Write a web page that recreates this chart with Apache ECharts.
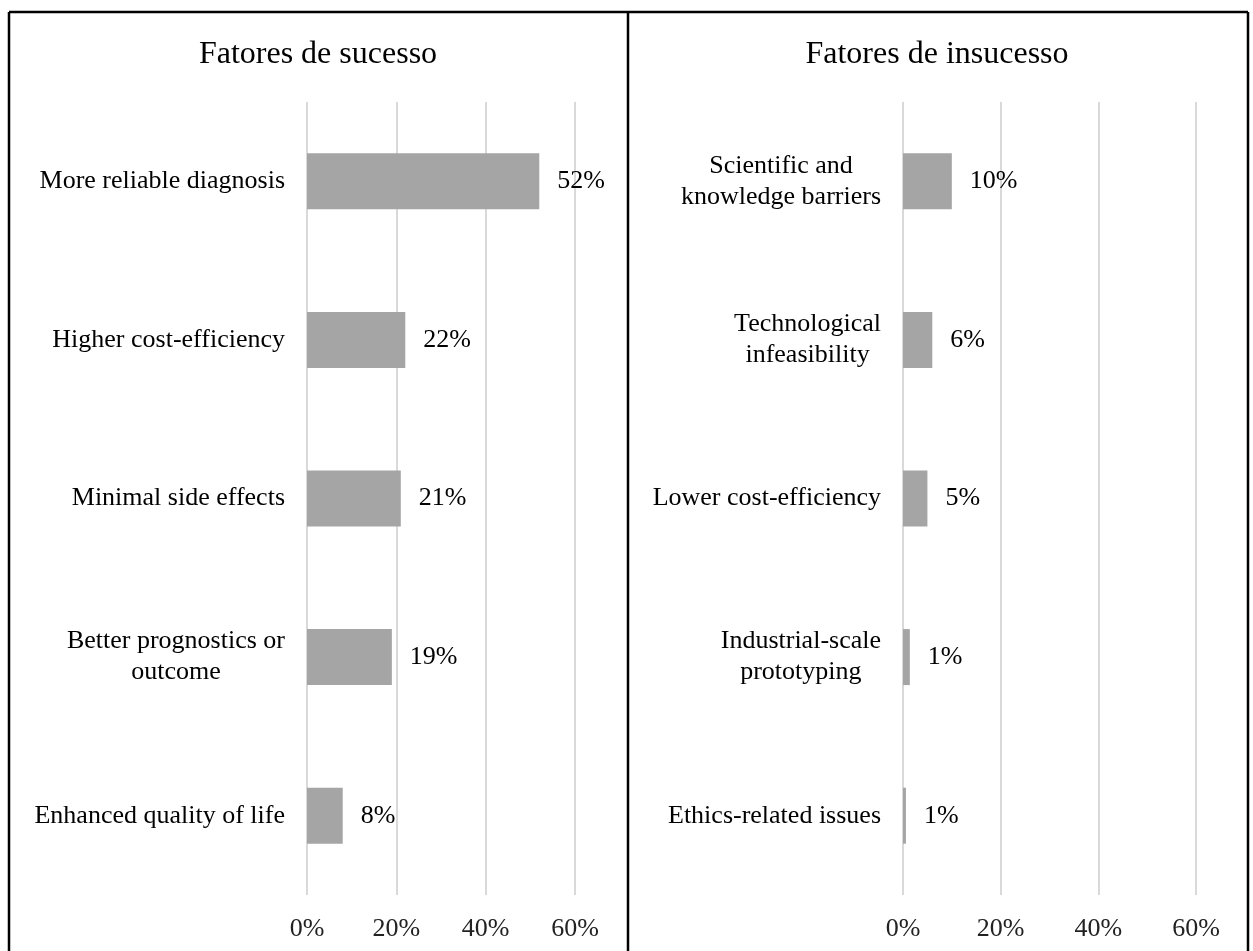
<!DOCTYPE html>
<html>
<head>
<meta charset="utf-8">
<script src="https://cdn.jsdelivr.net/npm/echarts@6/dist/echarts.min.js"></script>
<style>
  html, body { margin: 0; padding: 0; background: #fff; }
  #chart { width: 1253px; height: 951px; }
</style>
</head>
<body>
<div id="chart"></div>
<script>
// success factors (left panel)
const successLabels = [
  'More reliable diagnosis',
  'Higher cost-efficiency',
  'Minimal side effects',
  'Better prognostics or\noutcome',
  'Enhanced quality of life'
];
const successValues = [52, 22, 21, 19, 8];

// failure factors (right panel)
const failureLabels = [
  'Scientific and\nknowledge barriers',
  'Technological\ninfeasibility',
  'Lower cost-efficiency',
  'Industrial-scale\nprototyping',
  'Ethics-related issues'
];
const failureValues = [10, 6, 5, 1.4, 0.6];

const panelTitles = ['Fatores de sucesso', 'Fatores de insucesso'];
const axisTicks = [0, 20, 40, 60];

const FONT = '"Liberation Serif", "Times New Roman", serif';

function centeredLines(text) {
  return text.split('\n').map(line => `{c|${line}}`).join('\n');
}

function xAxisFor(gridIndex) {
  return {
    type: 'value',
    gridIndex,
    min: axisTicks[0],
    max: axisTicks[axisTicks.length - 1],
    interval: axisTicks[1] - axisTicks[0],
    axisLine: { show: false },
    axisTick: { show: false },
    splitLine: { show: true, lineStyle: { color: '#d9d9d9', width: 2 } },
    axisLabel: {
      formatter: '{value}%',
      margin: 21,
      fontFamily: FONT,
      fontSize: 26,
      color: '#222'
    }
  };
}

function yAxisFor(gridIndex, labels) {
  return {
    type: 'category',
    gridIndex,
    inverse: true,
    data: labels,
    axisLine: { show: false },
    axisTick: { show: false },
    axisLabel: {
      margin: 22,
      formatter: centeredLines,
      rich: {
        c: { fontFamily: FONT, fontSize: 26, color: '#000', align: 'center', lineHeight: 31 }
      }
    }
  };
}

function barSeries(index, values) {
  return {
    type: 'bar',
    xAxisIndex: index,
    yAxisIndex: index,
    data: values,
    barWidth: 56,
    itemStyle: { color: '#a5a5a5' },
    label: {
      show: true,
      position: 'right',
      distance: 18,
      formatter: p => Math.round(p.value) + '%',
      fontFamily: FONT,
      fontSize: 26,
      color: '#000'
    }
  };
}

const chart = echarts.init(document.getElementById('chart'));
chart.setOption({
  animation: false,
  backgroundColor: '#fff',
  title: [
    { text: panelTitles[0], left: 313, top: 34, textAlign: 'center',
      textStyle: { fontFamily: FONT, fontSize: 32, fontWeight: 'normal', color: '#000' } },
    { text: panelTitles[1], left: 932, top: 34, textAlign: 'center',
      textStyle: { fontFamily: FONT, fontSize: 32, fontWeight: 'normal', color: '#000' } }
  ],
  grid: [
    { left: 307, right: 678, top: 102, bottom: 56 },
    { left: 903, right: 57, top: 102, bottom: 56 }
  ],
  xAxis: [xAxisFor(0), xAxisFor(1)],
  yAxis: [yAxisFor(0, successLabels), yAxisFor(1, failureLabels)],
  series: [barSeries(0, successValues), barSeries(1, failureValues)],
  graphic: [
    { type: 'line', shape: { x1: 9, y1: 12, x2: 1248, y2: 12 }, style: { stroke: '#000', lineWidth: 2.5 } },
    { type: 'line', shape: { x1: 9, y1: 12, x2: 9, y2: 960 }, style: { stroke: '#000', lineWidth: 2.5 } },
    { type: 'line', shape: { x1: 628, y1: 12, x2: 628, y2: 960 }, style: { stroke: '#000', lineWidth: 2.5 } },
    { type: 'line', shape: { x1: 1248, y1: 12, x2: 1248, y2: 960 }, style: { stroke: '#000', lineWidth: 2.5 } }
  ]
});
</script>
</body>
</html>
